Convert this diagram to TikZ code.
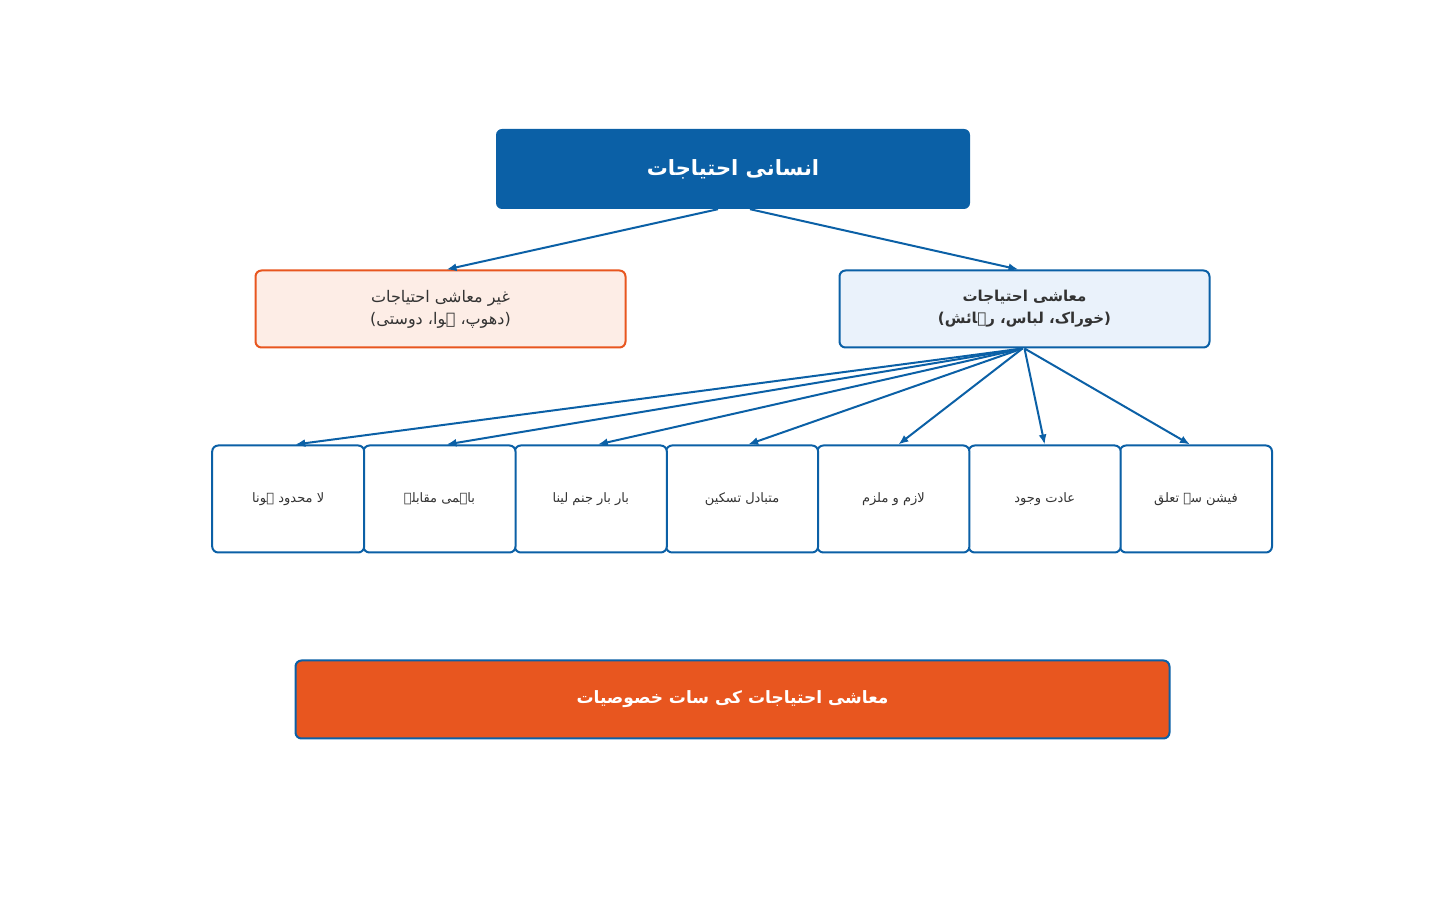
\documentclass[tikz,border=0pt]{standalone}
\usepackage{fontspec}
\newfontfamily\urdu[Script=Arabic]{DejaVu Sans}
\TeXXeTstate=1
\usetikzlibrary{arrows.meta, positioning}

\definecolor{needblue}{HTML}{0B60A6}
\definecolor{needorange}{HTML}{E8561F}
\definecolor{peachfill}{HTML}{FDEDE6}
\definecolor{skyfill}{HTML}{EAF2FB}
\definecolor{inktext}{HTML}{333333}

\newcommand{\ur}[1]{\beginR #1\endR}

\begin{document}
\begin{tikzpicture}[x=1pt, y=1pt, >={Latex[length=10pt, width=8pt]}]
  \tikzstyle{every node}=[font=\urdu, text=inktext, inner sep=0pt, align=center]
  \tikzstyle{rootbox}=[fill=needblue, rounded corners=6pt, minimum width=474pt, minimum height=80pt,
                       text=white, font=\urdu\bfseries\fontsize{21}{26}\selectfont]
  \tikzstyle{sidebox}=[draw=needorange, fill=peachfill, line width=2pt, rounded corners=6pt,
                       minimum width=370pt, minimum height=77pt, font=\urdu\fontsize{16}{22}\selectfont]
  \tikzstyle{ecobox}=[draw=needblue, fill=skyfill, line width=2pt, rounded corners=6pt,
                      minimum width=370pt, minimum height=77pt, font=\urdu\bfseries\fontsize{15}{22}\selectfont]
  \tikzstyle{trait}=[draw=needblue, fill=white, line width=2pt, rounded corners=6pt,
                     minimum width=152pt, minimum height=107pt, node distance=151.3pt,
                     font=\urdu\fontsize{13}{16}\selectfont]
  \tikzstyle{footbar}=[draw=needblue, fill=needorange, line width=2pt, rounded corners=6pt,
                       minimum width=874pt, minimum height=78pt, text=white,
                       font=\urdu\bfseries\fontsize{17}{22}\selectfont]
  \tikzstyle{link}=[->, draw=needblue, line width=2pt]

  \useasboundingbox (0,0) rectangle (1430,910);

  \node[rootbox] (root) at (733,741)   {\ur{انسانی احتیاجات}};
  \node[sidebox] (noneco) at (440.5,601) {\ur{غیر معاشی احتیاجات}\\ \ur{(دھوپ، ہوا، دوستی)}};
  \node[ecobox]  (eco) at (1024.5,601) {\ur{معاشی احتیاجات}\\ \ur{(خوراک، لباس، رہائش)}};

  \node[trait] (fashion) at (1196,411)  {\ur{فیشن سے تعلق}};
  \node[trait] (habit)   [left of=fashion] {\ur{عادت وجود}};
  \node[trait] (linked)  [left of=habit]   {\ur{لازم و ملزم}};
  \node[trait] (substit) [left of=linked]  {\ur{متبادل تسکین}};
  \node[trait] (recur)   [left of=substit] {\ur{بار بار جنم لینا}};
  \node[trait] (rival)   [left of=recur]   {\ur{باہمی مقابلہ}};
  \node[trait] (endless) [left of=rival]   {\ur{لا محدود ہونا}};

  \node[footbar] (title) at (732.5,210.5) {\ur{معاشی احتیاجات کی سات خصوصیات}};

  \draw[link] ([xshift=-15pt]root.south) -- ([xshift=6pt]noneco.north);
  \draw[link] ([xshift=17pt]root.south) -- ([xshift=-6pt]eco.north);

  \draw[link] ([xshift=-2pt]eco.south) -- ([xshift=7pt]endless.north);
  \draw[link] ([xshift=-2pt]eco.south) -- ([xshift=7pt]rival.north);
  \draw[link] ([xshift=-2pt]eco.south) -- ([xshift=7pt]recur.north);
  \draw[link] ([xshift=-2pt]eco.south) -- ([xshift=6pt]substit.north);
  \draw[link] ([xshift=-2pt]eco.south) -- ([xshift=5pt]linked.north);
  \draw[link] (eco.south) -- (habit.north);
  \draw[link] (eco.south) -- ([xshift=-6pt]fashion.north);
\end{tikzpicture}
\end{document}
